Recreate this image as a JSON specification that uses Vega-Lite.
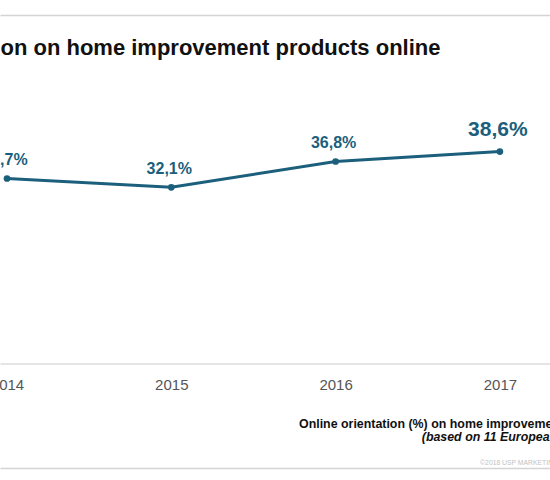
{
  "$schema": "https://vega.github.io/schema/vega-lite/v6.json",
  "width": 550,
  "height": 453,
  "autosize": "none",
  "padding": {"top": 15, "left": 0, "right": 0, "bottom": 12},
  "background": "white",
  "config": {
    "font": "Liberation Sans",
    "view": {"stroke": null}
  },
  "title": {
    "text": "Orientation on home improvement products online",
    "anchor": "start",
    "frame": "group",
    "orient": "top",
    "offset": 0,
    "baseline": "alphabetic",
    "dx": -90,
    "dy": 62,
    "fontSize": 22,
    "fontWeight": "bold",
    "color": "#111111"
  },
  "data": {
    "values": [
      {"year": 2014, "share": 33.7, "label": "33,7%"},
      {"year": 2015, "share": 32.1, "label": "32,1%"},
      {"year": 2016, "share": 36.8, "label": "36,8%"},
      {"year": 2017, "share": 38.6, "label": "38,6%"}
    ]
  },
  "encoding": {
    "y": {
      "field": "share",
      "type": "quantitative",
      "scale": {"domain": [-19.03, 63.48], "nice": false, "zero": false},
      "axis": {
        "domain": false,
        "ticks": false,
        "labels": false,
        "grid": false,
        "title": "(based on 11 European countries)",
        "titleAngle": 0,
        "titleAlign": "right",
        "titleBaseline": "middle",
        "titleX": 620,
        "titleY": 421,
        "titleFontSize": 12.4,
        "titleFontWeight": "bold",
        "titleFontStyle": "italic",
        "titleColor": "#111111"
      }
    }
  },
  "layer": [
    {
      "mark": {"type": "line", "color": "#1b5f7c", "strokeWidth": 3},
      "encoding": {
        "x": {
          "field": "year",
          "type": "quantitative",
          "scale": {"domain": [2013.9574, 2017.305], "nice": false, "zero": false},
          "axis": {
            "orient": "bottom",
            "offset": -104.5,
            "values": [2014, 2015, 2016, 2017],
            "format": "d",
            "domainColor": "#dddddd",
            "domainWidth": 1.5,
            "ticks": false,
            "grid": false,
            "labelFontSize": 15,
            "labelColor": "#555555",
            "labelPadding": 14,
            "title": "Online orientation (%) on home improvement products",
            "titleAlign": "right",
            "titleAnchor": null,
            "titleBaseline": "middle",
            "titleX": 620,
            "titleY": 59.5,
            "titleFontSize": 12.4,
            "titleFontWeight": "bold",
            "titleColor": "#111111"
          }
        }
      }
    },
    {
      "mark": {"type": "point", "filled": true, "opacity": 1, "color": "#1b5f7c", "size": 45},
      "encoding": {
        "x": {
          "field": "year",
          "type": "quantitative",
          "axis": {
            "orient": "top",
            "domainColor": "#d4d4d4",
            "domainWidth": 1.5,
            "ticks": false,
            "labels": false,
            "grid": false,
            "title": null
          }
        }
      }
    },
    {
      "transform": [{"filter": "datum.year !== 2017"}],
      "mark": {"type": "text", "fontSize": 16, "fontWeight": "bold", "color": "#1b5f7c", "baseline": "alphabetic", "dy": -13, "dx": -2},
      "encoding": {
        "x": {
          "field": "year",
          "type": "quantitative",
          "axis": {
            "orient": "bottom",
            "offset": 0,
            "domainColor": "#d4d4d4",
            "domainWidth": 1.5,
            "ticks": false,
            "labels": false,
            "grid": false,
            "title": "©2018 USP MARKETING CONSULTANCY",
            "titleAlign": "right",
            "titleAnchor": null,
            "titleBaseline": "middle",
            "titleX": 610,
            "titleY": -6,
            "titleFontSize": 6.8,
            "titleFontWeight": "normal",
            "titleColor": "#c2c2c2"
          }
        },
        "text": {"field": "label"}
      }
    },
    {
      "transform": [{"filter": "datum.year === 2017"}],
      "mark": {"type": "text", "fontSize": 21, "fontWeight": "bold", "color": "#1b5f7c", "baseline": "alphabetic", "dy": -16, "dx": -2},
      "encoding": {
        "x": {"field": "year", "type": "quantitative", "axis": null},
        "text": {"field": "label"}
      }
    }
  ],
  "resolve": {"axis": {"x": "independent"}}
}
